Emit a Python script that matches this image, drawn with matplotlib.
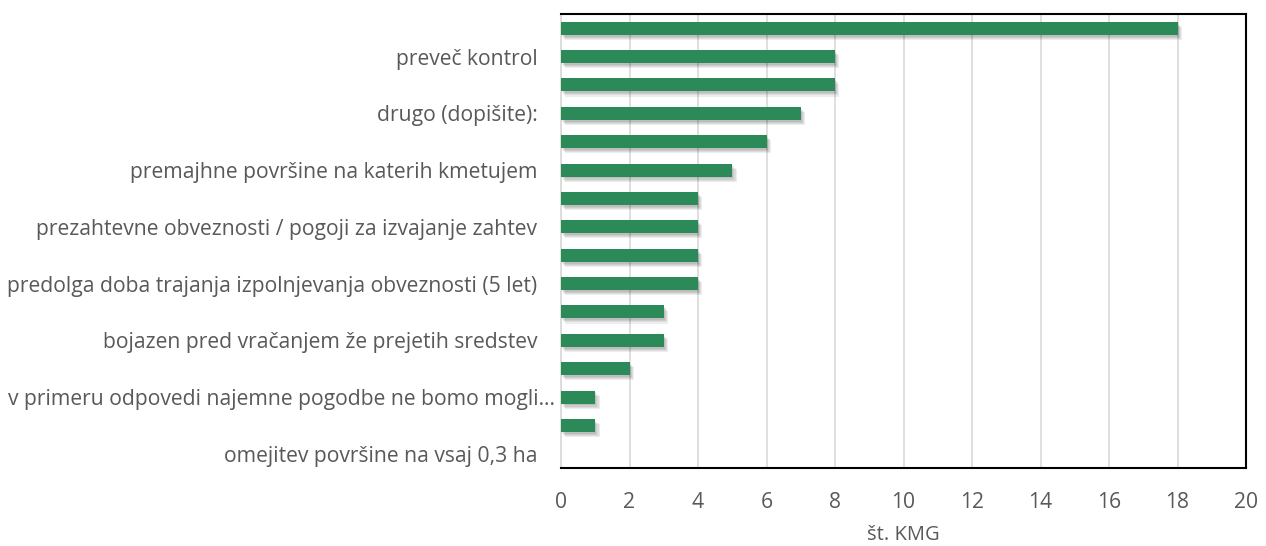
import numpy as np
import matplotlib
matplotlib.use('Agg')
import matplotlib.pyplot as plt
import matplotlib.patheffects as pe
from matplotlib.transforms import ScaledTranslation

# values from top to bottom (16 categories, only every other one labelled)
values = [18, 8, 8, 7, 6, 5, 4, 4, 4, 4, 3, 3, 2, 1, 1, 0]
shown_labels = ['preveč kontrol',
                'drugo (dopišite):',
                'premajhne površine na katerih kmetujem',
                'prezahtevne obveznosti / pogoji za izvajanje zahtev',
                'predolga doba trajanja izpolnjevanja obveznosti (5 let)',
                'bojazen pred vračanjem že prejetih sredstev',
                'v primeru odpovedi najemne pogodbe ne bomo mogli…',
                'omejitev površine na vsaj 0,3 ha']
x_ticks = [0, 2, 4, 6, 8, 10, 12, 14, 16, 18, 20]

plt.rcParams['font.family'] = ['Open Sans', 'DejaVu Sans']
text_color = '#595959'

fig = plt.figure(figsize=(12.66, 5.46), dpi=100)
ax = fig.add_axes([561 / 1266, 1 - 468 / 546, 685 / 1266, 454 / 546])

pos = np.arange(len(values))
bars = ax.barh(pos, values, height=0.46, color='#2b8a57', zorder=3)
# soft drop shadow, built from a few faint offset copies
shadow = [pe.SimplePatchShadow(offset=(o, -o - 0.5), shadow_rgbFace='#000000', alpha=0.07)
          for o in (0.8, 1.6, 2.4, 3.2)]
for b in bars:
  b.set_path_effects(shadow + [pe.Normal()])

ax.set_ylim(len(values) - 0.5, -0.5)
ax.set_xlim(0, 20)
ax.set_yticks(pos[1::2])
ax.set_yticklabels(shown_labels, fontsize=15.2, color=text_color)
ax.set_xticks(x_ticks)
ax.set_xticklabels([str(t) for t in x_ticks], fontsize=15.2, color=text_color)
ax.tick_params(axis='both', length=0)
ax.tick_params(axis='y', pad=17)
ax.tick_params(axis='x', pad=17)

# the truncated label sits closer to the axis, like in the original
long_lab = ax.get_yticklabels()[6]
long_lab.set_transform(long_lab.get_transform() + ScaledTranslation(12.5 / 72, 0, fig.dpi_scale_trans))

ax.grid(axis='x', color='#d9d9d9', linewidth=1.2, zorder=0)
for side in ['top', 'right', 'bottom']:
  ax.spines[side].set_color('black')
  ax.spines[side].set_linewidth(1.5)
ax.spines['left'].set_color('#d9d9d9')
ax.spines['left'].set_linewidth(1.2)

ax.set_xlabel('št. KMG', fontsize=14.5, color=text_color, labelpad=9)

fig.savefig('out.png', dpi=100)
